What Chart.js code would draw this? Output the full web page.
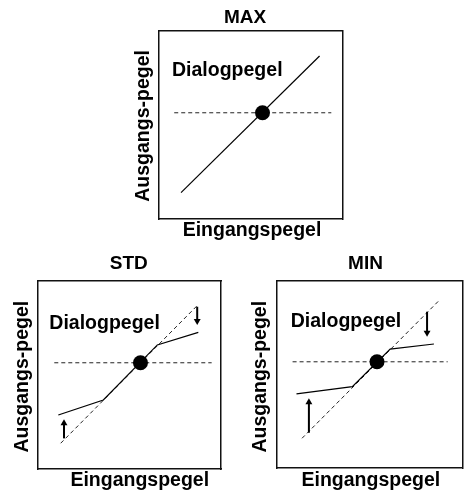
<!DOCTYPE html>
<html>
<head>
<meta charset="utf-8">
<title>Dialogpegel</title>
<script src="https://cdn.jsdelivr.net/npm/chart.js@4.4.1/dist/chart.umd.min.js"></script>
<style>
  html, body { margin: 0; padding: 0; background: #fff; overflow: hidden; }
  body { width: 464px; height: 493px; position: relative; }
  canvas { position: absolute; }
</style>
</head>
<body>
<canvas id="chart-max" width="250" height="245" style="left:120px; top:0px;"></canvas>
<canvas id="chart-std" width="235" height="248" style="left:0px; top:245px;"></canvas>
<canvas id="chart-min" width="230" height="248" style="left:240px; top:245px;"></canvas>
<script>
// Input level (x) and output level (y), both on a 0..100 scale per panel
const axisMin = 0;
const axisMax = 100;

// MAX: straight 1:1 transfer line
const maxLineX = [12, 87.5];
const maxLineY = [14, 86.7];
const maxRefX = [8.3, 93.9];      // dialogue level (dashed)
const maxRefY = [56.5, 56.5];
const maxDotX = [56.4];
const maxDotY = [56.5];

// STD: mild compression above and below the dialogue level
const stdLineX = [11.1, 35.7, 65.2, 87.6];
const stdLineY = [28.7, 36.7, 66.0, 72.7];
const stdDiagX = [12.4, 87.6];    // uncompressed line (dashed)
const stdDiagY = [13.7, 87.5];
const stdRefX = [8.9, 94.9];
const stdRefY = [56.5, 56.5];
const stdDotX = [56];
const stdDotY = [56.5];
const stdUpX = [14.2, 14.2];
const stdUpY = [16.3, 24.3];
const stdDownX = [87, 87];
const stdDownY = [86.3, 78.7];

// MIN: strong compression
const minLineX = [10.5, 40.6, 61.0, 84.6];
const minLineY = [39.6, 43.5, 63.6, 66.3];
const minDiagX = [13.5, 87.6];
const minDiagY = [15.9, 89.8];
const minRefX = [8.4, 92.0];
const minRefY = [56.8, 56.8];
const minDotX = [53.9];
const minDotY = [56.8];
const minUpX = [17.2, 17.2];
const minUpY = [18.9, 35.2];
const minDownX = [80.9, 80.9];
const minDownY = [83.6, 72.3];

const pts = (xs, ys) => xs.map((x, i) => ({ x, y: ys[i] }));

// Draws titles, axis labels and the "Dialogpegel" note at scale positions
const panelText = {
    id: 'panelText',
    afterDraw(chart, args, opts) {
        const { ctx } = chart;
        const xs = chart.scales.x;
        const ys = chart.scales.y;
        ctx.save();
        ctx.fillStyle = '#000';
        ctx.textBaseline = 'alphabetic';
        opts.items.forEach(item => {
            ctx.save();
            ctx.font = `bold ${item.size}px "Liberation Sans", Arial, sans-serif`;
            ctx.textAlign = item.align;
            ctx.translate(xs.getPixelForValue(item.x), ys.getPixelForValue(item.y));
            if (item.rotate) ctx.rotate(-Math.PI / 2);
            ctx.fillText(item.text, 0, 0);
            ctx.restore();
        });
        ctx.restore();
    }
};

function hiddenAxis(position) {
    return {
        type: 'linear',
        position,
        min: axisMin,
        max: axisMax,
        grid: { display: false, drawTicks: false },
        ticks: { display: false },
        border: { display: true, color: '#111', width: 1.5 }
    };
}

function arrowSet(xs, ys, rotation) {
    return {
        data: pts(xs, ys),
        showLine: true,
        borderColor: '#000',
        borderWidth: 2,
        backgroundColor: '#000',
        pointRadius: [0, 4],
        pointStyle: 'triangle',
        pointRotation: [0, rotation],
        pointBorderWidth: 0
    };
}

function buildPanel(id, panel) {
    const datasets = [
        // dot on the dialogue level
        {
            data: pts(panel.dotX, panel.dotY),
            pointRadius: 7.5,
            backgroundColor: '#000',
            pointBorderWidth: 0
        },
        // transfer curve
        {
            data: pts(panel.lineX, panel.lineY),
            showLine: true,
            borderColor: '#000',
            borderWidth: 1.2,
            pointRadius: 0
        },
        // dialogue level reference
        {
            data: pts(panel.refX, panel.refY),
            showLine: true,
            borderColor: '#222',
            borderWidth: 1,
            borderDash: [4, 3],
            pointRadius: 0
        }
    ];

    if (panel.diagX) {
        datasets.push({
            data: pts(panel.diagX, panel.diagY),
            showLine: true,
            borderColor: '#222',
            borderWidth: 1,
            borderDash: [4, 3],
            pointRadius: 0
        });
    }
    if (panel.upX) {
        datasets.splice(1, 0, arrowSet(panel.upX, panel.upY, 0), arrowSet(panel.downX, panel.downY, 180));
    }

    new Chart(document.getElementById(id), {
        type: 'scatter',
        data: { datasets },
        options: {
            responsive: false,
            animation: false,
            layout: { padding: panel.padding },
            scales: {
                x: hiddenAxis('bottom'),
                y: hiddenAxis('left'),
                x2: hiddenAxis('top'),
                y2: hiddenAxis('right')
            },
            plugins: {
                legend: { display: false },
                tooltip: { enabled: false },
                panelText: { items: panel.texts }
            }
        },
        plugins: [panelText]
    });
}

function labels(title, t, d, xl, yl) {
    return [
        { text: title, x: t[0], y: t[1], align: 'center', size: 19 },
        { text: 'Dialogpegel', x: d[0], y: d[1], align: 'left', size: 19.5 },
        { text: 'Eingangspegel', x: xl[0], y: xl[1], align: 'center', size: 19.5 },
        { text: 'Ausgangs-pegel', x: yl[0], y: yl[1], align: 'center', size: 19.5, rotate: true }
    ];
}

buildPanel('chart-max', {
    lineX: maxLineX, lineY: maxLineY,
    refX: maxRefX, refY: maxRefY,
    dotX: maxDotX, dotY: maxDotY,
    padding: { left: 39, top: 31, right: 27.5, bottom: 26 },
    texts: labels('MAX', [46.9, 104.1], [7.1, 75.9], [50.7, -9.3], [-5.4, 49.5])
});

buildPanel('chart-std', {
    lineX: stdLineX, lineY: stdLineY,
    diagX: stdDiagX, diagY: stdDiagY,
    refX: stdRefX, refY: stdRefY,
    dotX: stdDotX, dotY: stdDotY,
    upX: stdUpX, upY: stdUpY,
    downX: stdDownX, downY: stdDownY,
    padding: { left: 38, top: 36, right: 14, bottom: 24 },
    texts: labels('STD', [49.6, 106.4], [6.2, 74.5], [55.6, -9.0], [-5.6, 49.1])
});

buildPanel('chart-min', {
    lineX: minLineX, lineY: minLineY,
    diagX: minDiagX, diagY: minDiagY,
    refX: minRefX, refY: minRefY,
    dotX: minDotX, dotY: minDotY,
    upX: minUpX, upY: minUpY,
    downX: minDownX, downY: minDownY,
    padding: { left: 37, top: 36, right: 5, bottom: 25 },
    texts: labels('MIN', [47.7, 106.4], [7.4, 75.2], [50.6, -9.6], [-5.9, 48.8])
});
</script>
</body>
</html>
